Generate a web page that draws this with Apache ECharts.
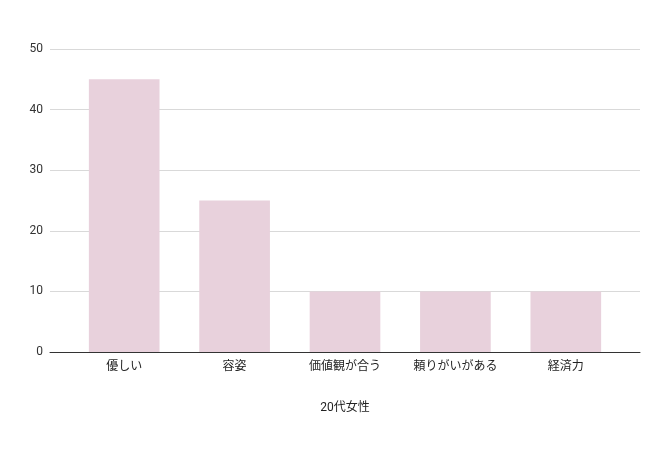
<!DOCTYPE html>
<html>
	<head>
		<meta charset="utf-8" />
		<title></title>
		<script src="https://cdn.jsdelivr.net/npm/echarts@6/dist/echarts.min.js"></script>
	</head>
	<body style="margin:0">
		<div id="chart" style="width: 660px; height: 450px;"></div>
		<script>
		var categories = ['優しい', '容姿', '価値観が合う', '頼りがいがある', '経済力'];
		var values = [45, 25, 10, 10, 10];
		var seriesName = '20代女性';
		var yMax = 50;
		var yStep = 10;

		var myChart = echarts.init(document.getElementById('chart'));
		var font = "Roboto, 'Noto Sans CJK JP', sans-serif";
		var option = {
			textStyle: { fontFamily: font },
			grid: [
				// 背景の目盛り線用
				{ left: 50, right: 20, top: 49, bottom: 98 },
				// 棒グラフ用
				{ left: 69, right: 39, top: 49, bottom: 98 }
			],
			xAxis: [
				{
					gridIndex: 0, type: 'value', min: 0, max: 1,
					axisLine: { show: true, onZero: false, lineStyle: { color: '#333', width: 1 } },
					axisTick: { show: false }, axisLabel: { show: false }, splitLine: { show: false },
					name: seriesName, nameLocation: 'middle', nameGap: 50,
					nameTextStyle: { color: '#222', fontSize: 12, fontFamily: font }
				},
				{
					gridIndex: 1, type: 'category', data: categories,
					axisLine: { show: false }, axisTick: { show: false },
					axisLabel: { color: '#222', fontSize: 12, margin: 9, fontFamily: font }
				}
			],
			yAxis: [
				{
					gridIndex: 0, type: 'value', min: 0, max: yMax, interval: yStep,
					axisLine: { show: false }, axisTick: { show: false },
					axisLabel: { color: '#333', fontSize: 12, margin: 7, fontFamily: font },
					splitLine: { lineStyle: { color: '#d9d9d9', width: 1 } }
				},
				{
					gridIndex: 1, type: 'value', min: 0, max: yMax, interval: yStep,
					show: false
				}
			],
			series: [{
				name: seriesName,
				type: 'bar',
				xAxisIndex: 1,
				yAxisIndex: 1,
				data: values,
				barWidth: '64%',
				itemStyle: { color: '#e8d1dc' },
				z: 3
			}]
		};
		myChart.setOption(option);
		</script>
	</body>
</html>
